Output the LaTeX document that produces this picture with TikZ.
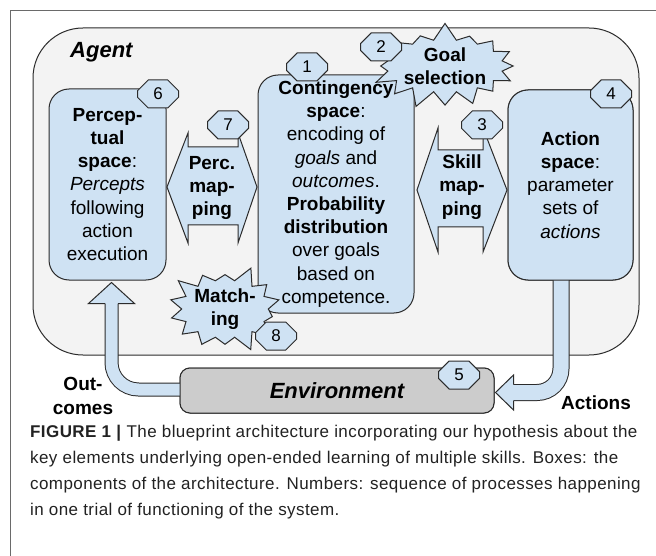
\documentclass[tikz,border=0pt]{standalone}
\usepackage{fontspec}
\setmainfont{Liberation Sans}
\usetikzlibrary{shapes.symbols,shapes.misc,calc}
\definecolor{boxblue}{HTML}{CFE2F3}
\definecolor{agentgray}{HTML}{F3F3F3}
\definecolor{envgray}{HTML}{CCCCCC}
\definecolor{edgec}{HTML}{2B2B2B}
\definecolor{framegray}{HTML}{6A6A6A}
\definecolor{captext}{HTML}{222222}
\newcommand\bodyfont{\fontsize{19}{23.2}\selectfont}
\newcommand\headfont{\fontsize{22}{26}\selectfont\bfseries\itshape}
\newcommand\numfont{\fontsize{17}{20}\selectfont}
\newcommand\capfont{\fontsize{17}{26}\selectfont\addfontfeature{LetterSpace=2.5}}
\begin{document}
\begin{tikzpicture}[x=1pt,y=-1pt,
  box/.style={draw=edgec, fill=boxblue, rounded corners=20pt, line width=1pt,
    align=center, font=\bodyfont, inner sep=0pt},
  agentbox/.style={draw=edgec, fill=agentgray, rounded corners=50pt, line width=1pt, inner sep=0pt},
  envbox/.style={draw=edgec, fill=envgray, rounded corners=10pt, line width=1pt, inner sep=0pt, font=\headfont},
  hexnum/.style={chamfered rectangle, chamfered rectangle xsep=10pt, chamfered rectangle ysep=14pt,
    minimum width=41pt, minimum height=28pt, inner sep=0pt, draw=edgec, fill=boxblue,
    line width=1pt, font=\numfont},
  burst/.style={starburst, draw=edgec, fill=boxblue, line width=1pt,
    align=center, font=\bodyfont\bfseries, inner sep=0pt},
  dblarrow/.style={draw=edgec, fill=boxblue, line width=1pt, line join=miter},
  shaftout/.style={draw=edgec, rounded corners=#1},
  shaftin/.style={draw=boxblue, rounded corners=#1},
  headfill/.style={fill=boxblue},
  headline/.style={draw=edgec, line width=1pt, line join=miter},
  lbl/.style={font=\bodyfont\bfseries, align=center, inner sep=0pt},
  capline/.style={anchor=base west, inner sep=0pt, font=\capfont, text=captext},
  framel/.style={draw=framegray, line width=1pt}
]
\useasboundingbox (0,0) rectangle (656,556);
\fill[white] (0,0) rectangle (656,556);
\draw[framel] (656,10.5) -- (10.5,10.5) -- (10.5,556);

% agent
\node[agentbox, minimum width=606pt, minimum height=327pt] (agent) at (336,191.5) {};
\node[anchor=west, font=\headfont, inner sep=0pt] (agentlbl) at (70,52) {Agent};

% boxes
\node[box, minimum width=117pt, minimum height=191pt] (perc) at (107.5,184.5)
  {\textbf{Percep-}\\\textbf{tual}\\\textbf{space}:\\\textit{Percepts}\\following\\action\\execution};
\node[box, minimum width=156pt, minimum height=238pt] (cont) at (336,194)
  {\textbf{Contingency}\\\textbf{space}:\\encoding of\\\textit{goals} and\\\textit{outcomes}.\\\textbf{Probability}\\\textbf{distribution}\\over goals\\based on\\competence.};
\node[box, minimum width=125pt, minimum height=190pt] (act) at (570.5,185)
  {\textbf{Action}\\\textbf{space}:\\parameter\\sets of\\\textit{actions}};
\node[envbox, minimum width=314pt, minimum height=45pt] (env) at (337,390.5) {Environment};

% outcomes arrow (environment -> perceptual space)
\coordinate (otip) at ($(perc.south)+(4,2)$);
\path[shaftout=27pt, line width=14pt] ($(otip)+(0,18)$) |- ($(env.west)+(60,-1)$);
\path[shaftin=27pt, line width=12pt] ($(otip)+(0,18)$) |- ($(env.west)+(60,-1)$);
\fill[headfill] ($(otip)+(-23,21)$) -- (otip) -- ($(otip)+(23,21)$) -- cycle;
\draw[headline] ($(otip)+(-6.5,21)$) -- ($(otip)+(-23,21)$) -- (otip) -- ($(otip)+(23,21)$) -- ($(otip)+(6.5,21)$);

% actions arrow (action space -> environment)
\coordinate (atip) at ($(env.east)+(1,2)$);
\path[shaftout=24pt, line width=17pt] ($(act.south)+(-9.5,-10)$) |- ($(atip)+(15,0)$);
\path[shaftin=24pt, line width=15pt] ($(act.south)+(-9.5,-10)$) |- ($(atip)+(15,0)$);
\fill[headfill] (atip) -- ($(atip)+(18,-17.5)$) -- ($(atip)+(18,17.5)$) -- cycle;
\draw[headline] ($(atip)+(18,-8)$) -- ($(atip)+(18,-17.5)$) -- (atip) -- ($(atip)+(18,17.5)$) -- ($(atip)+(18,8)$);

% redraw boxes on top of shaft ends
\node[envbox, minimum width=314pt, minimum height=45pt] at (env) {Environment};
\node[box, minimum width=125pt, minimum height=190pt] at (act)
  {\textbf{Action}\\\textbf{space}:\\parameter\\sets of\\\textit{actions}};

% double arrows
\draw[dblarrow] (167,187) -- (188,133) -- (188,147) -- (238,147) -- (238,133) -- (257,187)
  -- (238,243) -- (238,225) -- (188,225) -- (188,243) -- cycle;
\node[lbl] (percmap) at (212,188) {Perc.\\map-\\ping};
\draw[dblarrow] (417,190) -- (438,128) -- (438,150) -- (483,150) -- (483,128) -- (507,190)
  -- (483,252) -- (483,227) -- (438,227) -- (438,252) -- cycle;
\node[lbl] (skillmap) at (462,187) {Skill\\map-\\ping};

% bursts
\node[burst, minimum width=118pt, minimum height=82pt, starburst points=16, starburst point height=18pt, random starburst=7] (goal) at (445,66) {Goal\\selection};
\node[burst, minimum width=94pt, minimum height=84pt, starburst points=14, starburst point height=17pt, random starburst=3] (match) at (225,309) {Match-\\ing};

% numbers
\node[hexnum] (h1) at (307,67) {1};
\node[hexnum] (h2) at (381,47) {2};
\node[hexnum] (h3) at (482,125) {3};
\node[hexnum] (h4) at (611,94) {4};
\node[hexnum] (h5) at (459,375) {5};
\node[hexnum] (h6) at (158,94) {6};
\node[hexnum] (h7) at (228,125) {7};
\node[hexnum] (h8) at (276,336) {8};

% side labels
\node[lbl] (outl) at (83,396) {Out-\\comes};
\node[lbl] (actl) at (596,403) {Actions};

% caption
\node[capline] (c1) at (30,437) {\textbf{FIGURE 1 |} The blueprint architecture incorporating our hypothesis about the};
\node[capline] (c2) at (30,463) {key elements underlying open-ended learning of multiple skills. Boxes: the};
\node[capline] (c3) at (30,489) {components of the architecture. Numbers: sequence of processes happening};
\node[capline] (c4) at (30,515) {in one trial of functioning of the system.};
\end{tikzpicture}
\end{document}
